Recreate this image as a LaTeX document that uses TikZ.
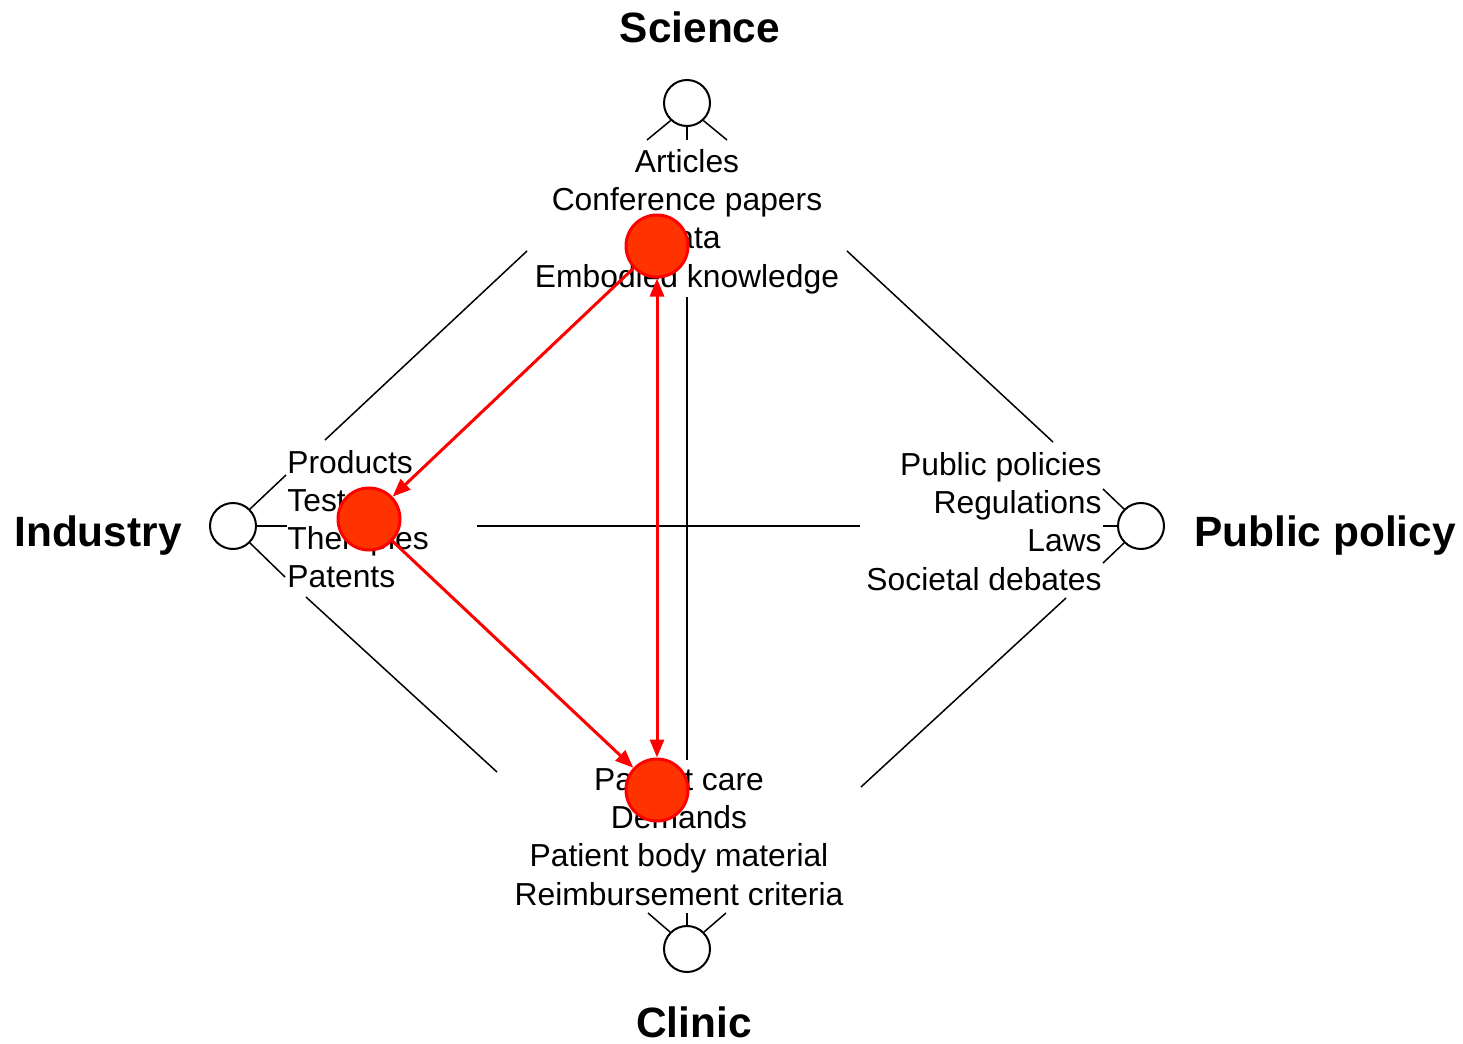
\documentclass[tikz,border=0pt]{standalone}
\usepackage{fontspec}
\setmainfont{Liberation Sans}
\usetikzlibrary{arrows.meta}
\definecolor{hubfill}{RGB}{255,51,0}

\begin{document}
\begin{tikzpicture}[x=0.5pt,y=-0.5pt]
\tikzstyle{every node}=[font=\fontsize{15.9}{19}\selectfont, inner sep=0pt]
\tikzstyle{actor}=[circle, draw, line width=1pt, minimum size=23pt, fill=white]
\tikzstyle{hub}=[circle, draw=red, line width=1.5pt, fill=hubfill, minimum size=31pt]
\tikzstyle{title}=[font=\fontsize{21.2}{25}\selectfont\bfseries, anchor=base]
\tikzstyle{leg}=[line width=0.75pt]
\tikzstyle{link}=[red, line width=1.5pt, -{Triangle[length=9pt,width=7pt]}]
\useasboundingbox (0,0) rectangle (1463,1044);

% titles
\node[title] (science) at (700,42) {Science};
\node[title] (industry) at (98,546) {Industry};
\node[title] (policy) at (1325,546) {Public policy};
\node[title] (clinic) at (694,1037) {Clinic};

% actors
\node[actor] (scicirc) at (687,103) {};
\node[actor] (indcirc) at (233,526) {};
\node[actor] (polcirc) at (1141,526) {};
\node[actor] (clicirc) at (687,949) {};

% legs
\draw[leg] (scicirc.-133) -- (647,140);
\draw[leg] (scicirc.south) -- (687,140);
\draw[leg] (scicirc.-47) -- (727,140);
\draw[leg] (indcirc.45) -- (286,475);
\draw[leg] (indcirc.east) -- (287,526);
\draw[leg] (indcirc.-45) -- (285,577);
\draw[leg] (polcirc.135) -- (1103,489);
\draw[leg] (polcirc.west) -- (1103,526);
\draw[leg] (polcirc.-135) -- (1103,563);
\draw[leg] (clicirc.135) -- (648,913);
\draw[leg] (clicirc.north) -- (687,913);
\draw[leg] (clicirc.45) -- (726,913);

% outputs of each field
\foreach \t [count=\i] in {Articles, Conference papers, Data, Embodied knowledge}
  \node[anchor=base] (sci\i) at (687,{172+38.4*(\i-1)}) {\t};
\foreach \t [count=\i] in {Products, Tests, Therapies, Patents}
  \node[anchor=base west] (ind\i) at (287,{473+38.2*(\i-1)}) {\t};
\foreach \t [count=\i] in {Public policies, Regulations, Laws, Societal debates}
  \node[anchor=base east] (pol\i) at (1102,{475+38.4*(\i-1)}) {\t};
\foreach \t [count=\i] in {Patient care, Demands, Patient body material, Reimbursement criteria}
  \node[anchor=base] (cli\i) at (679,{790+38.4*(\i-1)}) {\t};

% frame lines
\coordinate (tl1) at (527,251); \coordinate (tl2) at (325,440);
\coordinate (tr1) at (847,251); \coordinate (tr2) at (1053,442);
\coordinate (bl1) at (306,597); \coordinate (bl2) at (497,772);
\coordinate (br1) at (1066,598); \coordinate (br2) at (861,787);
\coordinate (vtop) at (687,297); \coordinate (vbot) at (687,760);
\coordinate (hleft) at (477,526); \coordinate (hright) at (860,526);
\draw[leg] (tl1) -- (tl2);
\draw[leg] (tr1) -- (tr2);
\draw[leg] (bl1) -- (bl2);
\draw[leg] (br1) -- (br2);
\draw[leg] (vtop) -- (vbot);
\draw[leg] (hleft) -- (hright);

% knowledge flows
\node[hub] (hubsci) at (657,246) {};
\node[hub] (hubind) at (369,519) {};
\node[hub] (hubcli) at (657,790) {};
\draw[link] (hubsci) -- (hubind);
\draw[link] (hubind) -- (hubcli);
\draw[link, {Triangle[length=9pt,width=7pt]}-{Triangle[length=9pt,width=7pt]}] (hubsci) -- (hubcli);
\end{tikzpicture}
\end{document}
